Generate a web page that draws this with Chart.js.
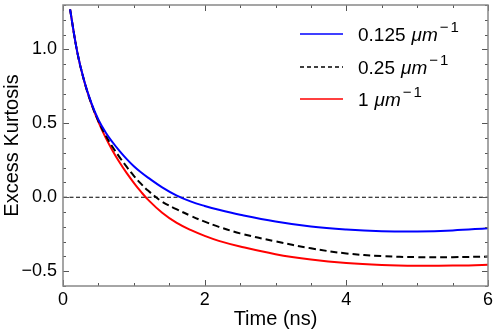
<!DOCTYPE html>
<html>
<head>
<meta charset="utf-8">
<script src="https://cdn.jsdelivr.net/npm/chart.js@4"></script>
<style>
  html, body { margin: 0; padding: 0; background: #fff; }
  #wrap { width: 498px; height: 331px; }
</style>
</head>
<body>
<div id="wrap"><canvas id="myChart"></canvas></div>
<script>
// tempos (ns)
var tempos = [0.1, 0.2, 0.3, 0.4, 0.5, 0.6, 0.7, 0.8, 0.9, 1.0, 1.1, 1.2, 1.4, 1.6, 1.8, 2.0, 2.2, 2.5, 3.0, 3.5, 4.0, 4.5, 5.0, 5.5, 6.0];

// curtose em excesso para cada k
var kurtAzul = [1.27, 0.985, 0.786, 0.638, 0.524, 0.44, 0.372, 0.312, 0.258, 0.21, 0.169, 0.133, 0.067, 0.013, -0.028, -0.059, -0.085, -0.118, -0.164, -0.198, -0.218, -0.229, -0.231, -0.224, -0.209];
var kurtPreto = [1.27, 0.985, 0.785, 0.634, 0.515, 0.42, 0.34, 0.27, 0.205, 0.145, 0.092, 0.045, -0.03, -0.08, -0.125, -0.165, -0.2, -0.244, -0.298, -0.345, -0.38, -0.398, -0.405, -0.405, -0.401];
var kurtVermelho = [1.27, 0.985, 0.784, 0.632, 0.509, 0.405, 0.315, 0.235, 0.163, 0.098, 0.038, -0.016, -0.105, -0.172, -0.221, -0.261, -0.295, -0.333, -0.385, -0.421, -0.445, -0.458, -0.463, -0.462, -0.457];

var legendas = ['0.125', '0.25', '1'];
var xTicks = [0, 2, 4, 6];
var yTicks = [-0.5, 0, 0.5, 1.0];

function pontos(ys) {
    return tempos.map(function (t, i) { return { x: t, y: ys[i] }; });
}

var fonte = "'Liberation Sans', Arial, sans-serif";

// ticks para dentro nos quatro lados + legenda com expoente
var molduraPlugin = {
    id: 'moldura',
    afterDraw: function (chart) {
        var c = chart.ctx;
        var a = chart.chartArea;
        var sx = chart.scales.x, sy = chart.scales.y;
        c.save();
        c.strokeStyle = '#555';
        c.lineWidth = 1;
        c.beginPath();
        var v, p, len;
        for (v = 0; v <= 6.001; v += 0.5) {
            p = Math.round(sx.getPixelForValue(v)) + 0.5;
            len = (Math.abs(v % 2) < 0.001) ? 6 : 3;
            c.moveTo(p, a.bottom); c.lineTo(p, a.bottom - len);
            c.moveTo(p, a.top); c.lineTo(p, a.top + len);
        }
        for (v = -0.6; v <= 1.301; v += 0.1) {
            p = Math.round(sy.getPixelForValue(v)) + 0.5;
            var r = Math.round(v * 10);
            len = (r % 5 === 0) ? 6 : 3;
            c.moveTo(a.left, p); c.lineTo(a.left + len, p);
            c.moveTo(a.right, p); c.lineTo(a.right - len, p);
        }
        c.stroke();
        c.strokeStyle = '#888';
        c.lineWidth = 1.5;
        c.strokeRect(a.left, a.top, a.right - a.left, a.bottom - a.top);

        // legenda
        var linhas = [a.top + 29, a.top + 62, a.top + 94];
        chart.data.datasets.forEach(function (ds, i) {
            if (i > 2) return;
            var y = linhas[i];
            c.strokeStyle = ds.borderColor;
            c.lineWidth = 1.5;
            c.setLineDash(i === 1 ? [4, 3] : []);
            c.beginPath();
            c.moveTo(a.right - 188, y); c.lineTo(a.right - 145, y);
            c.stroke();
            c.setLineDash([]);
            c.fillStyle = '#000';
            c.textBaseline = 'middle';
            var x = a.right - 130;
            c.font = '19px ' + fonte;
            c.fillText(legendas[i], x, y + 2);
            x += c.measureText(legendas[i]).width + 6;
            c.font = 'italic 19px ' + fonte;
            c.fillText('\u03bcm', x, y + 2);
            x += c.measureText('\u03bcm').width + 2;
            c.font = '15px ' + fonte;
            c.fillText('\u2212', x, y - 6);
            x += c.measureText('\u2212').width + 2;
            c.fillText('1', x, y - 6);
        });
        c.restore();
    }
};

const ctx = document.getElementById('myChart');
new Chart(ctx, {
    type: 'line',
    data: {
        datasets: [{
            label: legendas[0],
            data: pontos(kurtAzul),
            borderColor: '#0000ff',
            borderWidth: 2,
            pointRadius: 0,
            tension: 0.4
        },
        {
            label: legendas[1],
            data: pontos(kurtPreto),
            borderColor: '#000000',
            borderWidth: 2,
            borderDash: [7, 4],
            pointRadius: 0,
            tension: 0.4
        },
        {
            label: legendas[2],
            data: pontos(kurtVermelho),
            borderColor: '#ff0000',
            borderWidth: 2,
            pointRadius: 0,
            tension: 0.4
        },
        {
            label: 'zero',
            data: [{ x: 0, y: 0 }, { x: 6, y: 0 }],
            borderColor: '#000000',
            borderWidth: 1,
            borderDash: [4, 2.5],
            pointRadius: 0,
            order: 10
        }
        ]
    },
    plugins: [molduraPlugin],
    options: {
        responsive: true,
        maintainAspectRatio: false,
        animation: false,
        layout: { padding: { top: 5, right: 10, left: 0, bottom: 0 } },
        scales: {
            x: {
                type: 'linear',
                min: 0,
                max: 6,
                afterBuildTicks: function (s) { s.ticks = xTicks.map(function (v) { return { value: v }; }); },
                afterFit: function (s) { s.height = 45; s.paddingLeft = 0; s.paddingRight = 0; },
                grid: { display: false, drawTicks: false },
                border: { display: false },
                ticks: {
                    color: '#000',
                    padding: 3,
                    maxRotation: 0,
                    font: { size: 18, family: fonte }
                },
                title: {
                    display: true,
                    text: 'Time (ns)',
                    color: '#000',
                    padding: { top: 0, bottom: 0 },
                    font: { size: 20, family: fonte }
                }
            },
            y: {
                min: -0.6,
                max: 1.3,
                afterBuildTicks: function (s) { s.ticks = yTicks.map(function (v) { return { value: v }; }); },
                afterFit: function (s) { s.width = 63; s.paddingTop = 0; s.paddingBottom = 0; },
                grid: { display: false, drawTicks: false },
                border: { display: false },
                ticks: {
                    color: '#000',
                    padding: 6,
                    font: { size: 18, family: fonte },
                    callback: function (v) { return v.toFixed(1).replace('-', '\u2212'); }
                },
                title: {
                    display: true,
                    text: 'Excess Kurtosis',
                    color: '#000',
                    padding: { top: 0, bottom: 1 },
                    font: { size: 20, family: fonte }
                }
            }
        },
        plugins: {
            legend: { display: false },
            tooltip: { enabled: false }
        }
    }
});
</script>
</body>
</html>
